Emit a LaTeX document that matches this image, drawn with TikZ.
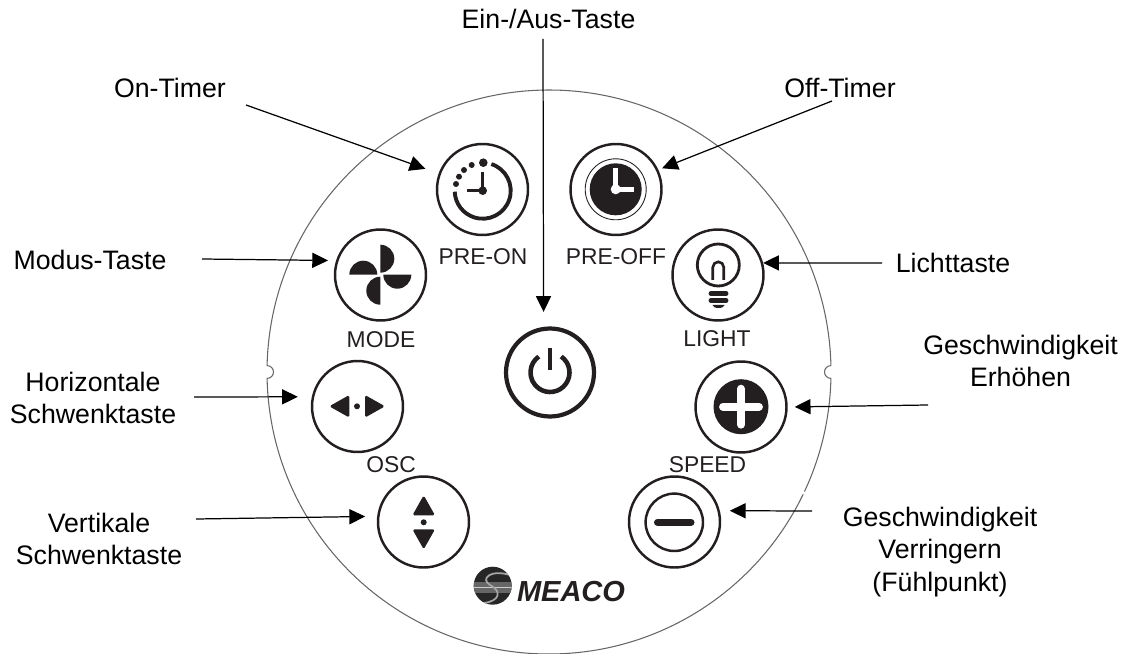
\documentclass[tikz,border=0pt]{standalone}
\usepackage{fontspec}
\setmainfont{Liberation Sans}
\usetikzlibrary{arrows.meta}
\definecolor{inkblack}{HTML}{231F20}
\tikzset{
	button/.style={draw=inkblack,circle,line width=1.4pt,minimum size=1.82cm,inner sep=0pt},
	panelword/.style={text=inkblack,font=\fontsize{13}{15}\selectfont,inner sep=0pt},
	callout/.style={font=\fontsize{15.2}{18.4}\selectfont,align=center,inner sep=3pt},
	pointer/.style={draw=black,line width=0.7pt,-{Triangle[length=9pt,width=8.6pt]}},
	icon/.style={draw=inkblack,line width=2.2pt},
}
\begin{document}
\begin{tikzpicture}[x=0.02cm,y=0.02cm]
		\useasboundingbox (0,0) rectangle (1125,653);

		\draw[gray!80!black,line width=0.6pt] (549,281) ++(1.3:282) arc [start angle=1.3, end angle=178.7, radius=282]
			arc [start angle=90, end angle=-90, radius=6.4]
			arc [start angle=181.3, end angle=358.7, radius=282]
			arc [start angle=-90, end angle=-270, radius=6.4];
		\draw[white,line width=1.5pt] (549,281) ++(334.3:282) arc [start angle=334.3, end angle=334.9, radius=282];

		\node[button] (btnon) at (482.5,463.5) {};
		\node[button] (btnoff) at (616,463.5) {};
		\node[button] (btnlight) at (718,378) {};
		\node[button] (btnmode) at (380.5,378) {};
		\node[button] (btnswingh) at (357.5,246.5) {};
		\node[button,line width=2.4pt,minimum size=1.76cm] (btnpower) at (550,280.5) {};
		\node[button] (btnplus) at (741,246) {};
		\node[button] (btnminus) at (674.5,131) {};
		\node[button] (btnswingv) at (423.5,131) {};

		\node[panelword] (wordon) at (483,396) {PRE-ON};
		\node[panelword] (wordoff) at (616,396) {PRE-OFF};
		\node[panelword] (wordmode) at (381,313.5) {MODE};
		\node[panelword] (wordlight) at (717,314) {LIGHT};
		\node[panelword] (wordosc) at (391,188) {OSC};
		\node[panelword] (wordspeed) at (707.5,188) {SPEED};

		\draw[icon] (482.7,462.3) ++(72:28) arc [start angle=72, end angle=-178, radius=28];
		\fill[inkblack] (483.3,490.3) circle (4.3);
		\fill[inkblack] (471.7,488) circle (3);
		\fill[inkblack] (464,483) circle (3);
		\fill[inkblack] (459,476.3) circle (3);
		\fill[inkblack] (456,469) circle (3);
		\draw[inkblack,line width=1.8pt] (482.7,481.3) -- (482.7,462.3) -- (466.7,462.3);
		\fill[inkblack] (482.7,462.3) circle (4.3);

		\draw[inkblack,line width=0.5pt] (615.7,463.7) circle (30.5);
		\fill[inkblack] (615.7,463.7) circle (26);
		\draw[white,line width=2.8pt] (615.7,485) -- (615.7,463.7) -- (633.5,463.7);
		\fill[white] (615.7,463.7) circle (5);

		\draw[inkblack,line width=1.6pt] (718.3,388) circle (21);
		\draw[inkblack,line width=1.5pt] (712.8,373) -- (712.8,385.7) arc [start angle=180, end angle=0, radius=5.5] -- (723.8,373);
		\draw[inkblack,line width=2.8pt,line cap=round] (711,359.5) -- (726,359.5);
		\draw[inkblack,line width=2.8pt,line cap=round] (711,352.5) -- (726,352.5);
		\fill[inkblack] (712.5,348) arc [start angle=180, end angle=360, x radius=6, y radius=3] -- cycle;

		\fill[inkblack] (380.3,408.3) arc [start angle=90, end angle=-90, radius=14] -- cycle;
		\fill[inkblack] (411.3,378.3) arc [start angle=0, end angle=-180, radius=14] -- cycle;
		\fill[inkblack] (380.3,376.3) arc [start angle=90, end angle=270, radius=14] -- cycle;
		\fill[inkblack] (377.3,378.3) arc [start angle=0, end angle=180, radius=14] -- cycle;

		\fill[inkblack,rounded corners=1pt] (329.3,246.7) -- (349.3,258) -- (349.3,235.4) -- cycle;
		\fill[inkblack,rounded corners=1pt] (385,246.7) -- (365,258) -- (365,235.4) -- cycle;
		\fill[inkblack] (357,246.7) circle (3);

		\fill[inkblack,rounded corners=1pt] (423.7,157.7) -- (412.4,137.7) -- (435,137.7) -- cycle;
		\fill[inkblack,rounded corners=1pt] (423.7,103.7) -- (412.4,123.7) -- (435,123.7) -- cycle;
		\fill[inkblack] (423.7,130.7) circle (3);

		\fill[inkblack] (741,246.3) circle (27.5);
		\draw[white,line width=4.5pt,line cap=round] (723,246.3) -- (759,246.3);
		\draw[white,line width=4.5pt,line cap=round] (741,228.3) -- (741,264.3);

		\draw[inkblack,line width=1.4pt] (674.3,130.7) circle (28.7);
		\draw[inkblack,line width=4pt,line cap=round] (657.5,130.7) -- (691,130.7);

		\draw[inkblack,line width=2.6pt] (550,280.5) ++(55:19.5) arc [start angle=55, end angle=-235, radius=19.5];
		\draw[inkblack,line width=2.8pt] (550,305.5) -- (550,283);

		\begin{scope}
			\clip (492.7,67.3) circle (19);
			\fill[black!85] (473,48) rectangle (512,87);
			\fill[black!60] (473,60) rectangle (512,71);
			\draw[black!20,line width=0.4pt] (473,65.5) -- (512,65.5);
			\draw[black!35,line width=1pt] (510,78) .. controls (490,84) and (480,74) .. (490,68) .. controls (502,62) and (500,52) .. (484,50);
		\end{scope}
		\node[font=\fontsize{16.5}{18}\bfseries\itshape\selectfont,text=inkblack,inner sep=0pt] (wordbrand) at (571,61.3) {MEACO};

		\node[callout] (lblpower) at (548.5,634) {Ein-/Aus-Taste};
		\node[callout] (lblon) at (170,565) {On-Timer};
		\node[callout] (lbloff) at (840,565) {Off-Timer};
		\node[callout] (lblmode) at (90,393) {Modus-Taste};
		\node[callout] (lbllight) at (953,390) {Lichttaste};
		\node[callout] (lblswingh) at (93,255) {Horizontale\\Schwenktaste};
		\node[callout] (lblswingv) at (99,114) {Vertikale\\Schwenktaste};
		\node[callout] (lblplus) at (1020.5,292) {Geschwindigkeit\\Erhöhen};
		\node[callout] (lblminus) at (940,101) {Geschwindigkeit\\Verringern\\(Fühlpunkt)};

		\coordinate (tailpower) at (543,614);
		\coordinate (tailon) at (246,548);
		\coordinate (tailoff) at (832,552);
		\coordinate (taillight) at (882,390);
		\coordinate (tailmode) at (202,394);
		\coordinate (tailswingh) at (194,256);
		\coordinate (tailplus) at (928,248);
		\coordinate (tailminus) at (812,142);
		\coordinate (tailswingv) at (196,134);

		\draw[pointer,shorten >=15*0.5669pt] (tailpower) -- (btnpower.98);
		\draw[pointer,shorten >=14*0.5669pt] (tailon) -- (btnon.160);
		\draw[pointer,shorten >=4*0.5669pt] (tailoff) -- (btnoff.25);
		\draw[pointer] (taillight) -- (btnlight.15);
		\draw[pointer,shorten >=8*0.5669pt] (tailmode) -- (btnmode.162);
		\draw[pointer,shorten >=14*0.5669pt] (tailswingh) -- (btnswingh.168);
		\draw[pointer,shorten >=7*0.5669pt] (tailplus) -- (btnplus.east);
		\draw[pointer,shorten >=10*0.5669pt] (tailminus) -- (btnminus.14);
		\draw[pointer,shorten >=12*0.5669pt] (tailswingv) -- (btnswingv.173);
\end{tikzpicture}
\end{document}
